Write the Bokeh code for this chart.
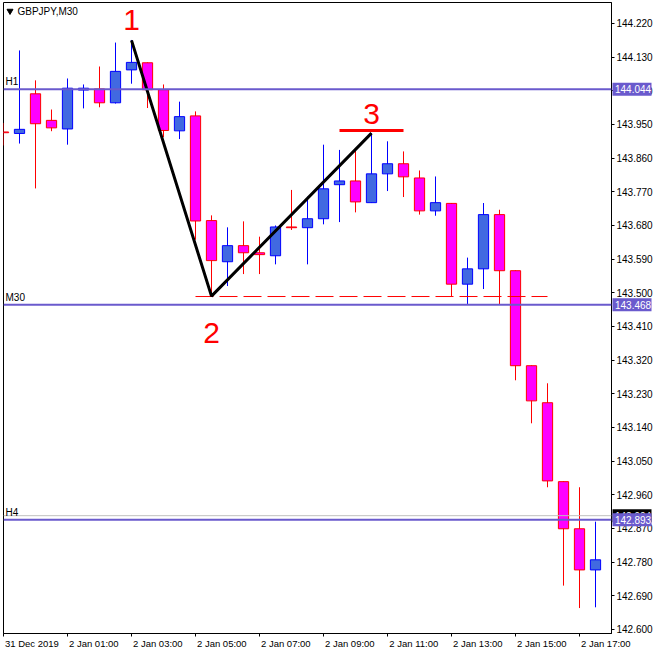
from bokeh.plotting import figure
from bokeh.models import Range1d, FixedTicker, PrintfTickFormatter, Span, Label, ColumnDataSource
from bokeh.core.properties import value
from bokeh.embed import file_html
from bokeh.resources import INLINE

# ---------------- data ----------------
symbol = "GBPJPY,M30"
bars = list(range(38))
opens = [143.930, 143.926, 144.032, 143.961, 143.938, 144.042, 144.045, 144.008, 144.096, 144.115,
         144.043, 143.933, 143.973, 143.693, 143.583, 143.626, 143.607, 143.599, 143.676, 143.674,
         143.698, 143.789, 143.799, 143.741, 143.818, 143.845, 143.807, 143.719, 143.739, 143.523,
         143.564, 143.709, 143.559, 143.305, 143.206, 142.995, 142.869, 142.759]
highs = [143.954, 144.148, 144.068, 143.990, 144.073, 144.057, 144.105, 144.169, 144.176, 144.116,
         144.057, 144.011, 143.985, 143.707, 143.675, 143.691, 143.650, 143.680, 143.775, 143.757,
         143.896, 143.882, 143.882, 143.927, 143.905, 143.878, 143.827, 143.811, 143.740, 143.594,
         143.740, 143.722, 143.560, 143.306, 143.258, 142.996, 142.980, 142.888]
lows = [143.894, 143.899, 143.779, 143.932, 143.896, 143.993, 143.996, 144.006, 144.059, 143.994,
        143.916, 143.911, 143.642, 143.491, 143.518, 143.550, 143.550, 143.576, 143.668, 143.576,
        143.683, 143.689, 143.715, 143.740, 143.772, 143.756, 143.709, 143.706, 143.491, 143.470,
        143.510, 143.470, 143.266, 143.151, 142.980, 142.717, 142.657, 142.659]
closes = [143.928, 143.937, 143.952, 143.941, 144.047, 144.047, 144.008, 144.092, 144.116, 144.043,
          143.934, 143.971, 143.692, 143.586, 143.626, 143.607, 143.602, 143.676, 143.674, 143.698,
          143.778, 143.799, 143.743, 143.818, 143.845, 143.810, 143.719, 143.741, 143.523, 143.564,
          143.709, 143.559, 143.305, 143.211, 142.997, 142.869, 142.759, 142.786]

level_names = ["H1", "M30", "H4"]
level_prices = [144.044, 143.468, 142.893]
bid_price = 142.904

wave_bars = [8, 13, 23]
wave_prices = [144.175, 143.491, 143.927]
wave_labels = ["1", "2", "3"]

support_price = 143.490
support_bars = [12, 34]
resistance_price = 143.934
resistance_bars = [21, 25]

price_ticks = [144.220, 144.130, 144.040, 143.950, 143.860, 143.770, 143.680, 143.590, 143.500,
               143.410, 143.320, 143.230, 143.140, 143.050, 142.960, 142.870, 142.780, 142.690, 142.600]
time_tick_bars = [0, 4, 8, 12, 16, 20, 24, 28, 32, 36]
time_tick_labels = ["31 Dec 2019", "2 Jan 01:00", "2 Jan 03:00", "2 Jan 05:00", "2 Jan 07:00",
                    "2 Jan 09:00", "2 Jan 11:00", "2 Jan 13:00", "2 Jan 15:00", "2 Jan 17:00"]

# ---------------- styling ----------------
FONT = "Liberation Sans"
BULL_FILL, BULL_LINE = "#4169E1", "#0000FF"
BEAR_FILL, BEAR_LINE = "#FF00FF", "#FF0000"
LEVEL_COLOR = "#6A5ACD"

FW, FH = 608, 631          # frame size in px (frame starts at x=3, y=2)
X0, X1 = 0, 38
Y0, Y1 = 142.58897, 144.27615
PX_PER_BAR = FW / (X1 - X0)


def sx(px):  # canvas pixel -> bar units
    return X0 + (px - 3) / PX_PER_BAR


def sy(py):  # canvas pixel -> price
    return Y1 - (py - 2) / FH * (Y1 - Y0)


p = figure(frame_width=FW, frame_height=FH, x_range=Range1d(X0, X1), y_range=Range1d(Y0, Y1),
           y_axis_location="right", toolbar_location=None, output_backend="svg",
           min_border_left=3, min_border_top=2, min_border_right=44, min_border_bottom=18,
           background_fill_color="white", border_fill_color="white",
           outline_line_color="black", outline_line_width=1)
p.grid.visible = False

bull = [c > o for o, c in zip(opens, closes)]
src = ColumnDataSource(dict(
    x=bars, high=highs, low=lows,
    top=[max(o, c) for o, c in zip(opens, closes)],
    bottom=[min(o, c) for o, c in zip(opens, closes)],
    fill=[BULL_FILL if b else BEAR_FILL for b in bull],
    line=[BULL_LINE if b else BEAR_LINE for b in bull],
))
p.segment(x0="x", y0="low", x1="x", y1="high", line_color="line", line_width=1, source=src)
p.vbar(x="x", width=0.64, top="top", bottom="bottom", fill_color="fill", line_color="line",
       line_width=1, source=src)

# bid line (gray) and level lines
p.add_layout(Span(location=bid_price, dimension="width", line_color="#C0C0C0", line_width=1))
for name, price in zip(level_names, level_prices):
    p.add_layout(Span(location=price, dimension="width", line_color=LEVEL_COLOR, line_width=2))
    p.add_layout(Label(x=sx(5), y=price + 2 / 374, text=name, text_font=FONT, text_font_size="10px",
                       text_color="black", text_baseline="bottom", text_align="left"))

# support dashed line and resistance line
p.segment(x0=[support_bars[0]], y0=[support_price], x1=[support_bars[1]], y1=[support_price],
          line_color=BEAR_LINE, line_width=1, line_dash="18 6")
p.segment(x0=[resistance_bars[0]], y0=[resistance_price], x1=[resistance_bars[1]], y1=[resistance_price],
          line_color=BEAR_LINE, line_width=3)

# zigzag wave
p.line(wave_bars, wave_prices, line_color="black", line_width=3)
wsrc = ColumnDataSource(dict(x=wave_bars, y=wave_prices, t=wave_labels, yo=[-20, 37, -19]))
p.text(x="x", y="y", text="t", y_offset="yo", source=wsrc, text_color="#FF0000",
       text_font=value(FONT), text_font_size="30px", text_align="center", text_baseline="middle")

# symbol title
p.scatter(x=[sx(9.5)], y=[sy(10.5)], marker="inverted_triangle", size=6, color="black")
p.add_layout(Label(x=sx(17), y=sy(10.5), text=symbol, text_font=FONT, text_font_size="10px",
                   text_color="black", text_baseline="middle", text_align="left"))


# price boxes over the right price scale (overlay level -> drawn outside the frame)
def price_box(prices, color):
    s = ColumnDataSource(dict(
        xb=[sx(631.5)] * len(prices), xt=[sx(614.5)] * len(prices),
        y=prices, t=[f"{v:.3f}" for v in prices],
    ))
    p.rect(x="xb", y="y", width=39, height=13, width_units="screen", height_units="screen",
           fill_color=color, line_color=None, source=s, level="overlay")
    p.text(x="xt", y="y", text="t", source=s, text_color="white", text_font=value(FONT),
           text_font_size="10px", text_align="left", text_baseline="middle", level="overlay")


price_box([bid_price], "black")
price_box(level_prices, LEVEL_COLOR)

# time axis: tick marks at bars (minor ticks), labels left-aligned to the marks
CHAR_W = {"0": .556, "1": .556, "2": .556, "3": .556, "4": .556, "5": .556, "6": .556, "7": .556,
          "8": .556, "9": .556, " ": .278, ":": .278, "J": .5, "a": .556, "n": .556, "D": .722,
          "e": .556, "c": .5}
XFS = 9.5
label_centers = [round(b + (sum(CHAR_W.get(ch, .556) for ch in lab) * XFS / 2 + 1.5) / PX_PER_BAR, 4)
                 for b, lab in zip(time_tick_bars, time_tick_labels)]
p.xaxis.ticker = FixedTicker(ticks=label_centers, minor_ticks=time_tick_bars)
p.xaxis.major_label_overrides = {c: lab for c, lab in zip(label_centers, time_tick_labels)}
p.xaxis.major_tick_out = 0
p.xaxis.major_tick_in = 0
p.xaxis.minor_tick_in = 0
p.xaxis.minor_tick_out = 3
p.xaxis.minor_tick_line_color = "black"
p.xaxis.major_label_text_font_size = f"{XFS}px"
p.xaxis.major_label_standoff = 1

p.yaxis.ticker = FixedTicker(ticks=price_ticks)
p.yaxis.formatter = PrintfTickFormatter(format="%.3f")
p.yaxis.major_tick_in = 0
p.yaxis.major_tick_out = 3
p.yaxis.minor_tick_line_color = None
p.yaxis.major_label_text_font_size = "10px"
p.yaxis.major_label_standoff = 2
for ax in (p.xaxis, p.yaxis):
    ax.axis_line_color = "black"
    ax.major_tick_line_color = "black"
    ax.major_label_text_font = FONT
    ax.major_label_text_color = "black"

open("out.html", "w").write(file_html(p, INLINE))
